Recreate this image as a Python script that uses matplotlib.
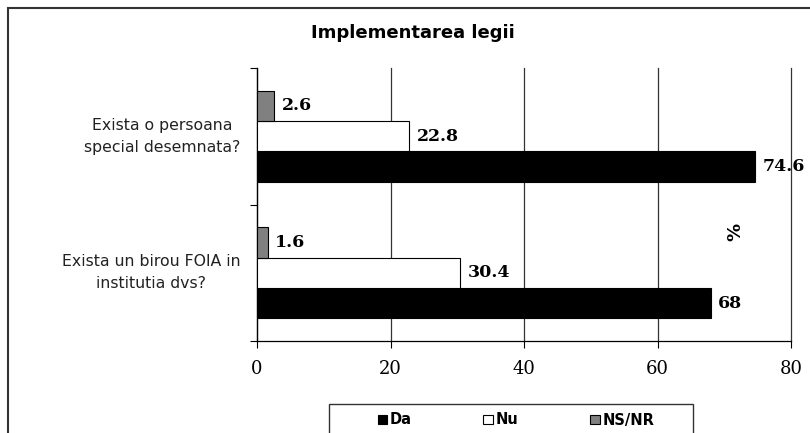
import matplotlib
matplotlib.use("Agg")
import matplotlib.pyplot as plt
from matplotlib.patches import Rectangle
import numpy as np

# data
questions = ["Exista o persoana\nspecial desemnata?",
             "Exista un birou FOIA in\ninstitutia dvs?"]
series_names = ["Da", "Nu", "NS/NR"]
da_vals = [74.6, 68]
nu_vals = [22.8, 30.4]
nsnr_vals = [2.6, 1.6]
x_ticks = [0, 20, 40, 60, 80]

colors = ["#000000", "#ffffff", "#808080"]

W, H = 810, 433
fig = plt.figure(figsize=(W / 100, H / 100), dpi=100)
ax = fig.add_axes([257 / W, 1 - 341 / H, (791 - 257) / W, (341 - 68) / H])

# first question on top
ypos = np.array([1, 0])
h = 1 / 4.5
offsets = [-h, 0, h]

bars = []
for vals, off, col, name in zip([da_vals, nu_vals, nsnr_vals], offsets, colors, series_names):
    b = ax.barh(ypos + off, vals, height=h, color=col, edgecolor="black",
                linewidth=0.8, label=name, zorder=3)
    bars.append(b)
    for y, v in zip(ypos + off, vals):
        ax.text(v + 1.1, y, f"{v:g}", va="center", ha="left",
                fontfamily="DejaVu Serif", fontweight="heavy", fontsize=12.5, zorder=4)

ax.set_xlim(0, 80)
ax.set_ylim(-0.5, 1.5)
ax.set_xticks(x_ticks)
ax.set_xticklabels([str(t) for t in x_ticks], fontfamily="DejaVu Serif", fontsize=13)
ax.tick_params(axis="x", direction="out", length=5, width=0.8, pad=9)

ax.set_yticks([-0.5, 0.5, 1.5])
ax.set_yticklabels([])
ax.set_yticks(ypos, minor=True)
ax.set_yticklabels(questions, minor=True, fontsize=11.3, multialignment="center",
                   color="#222222", linespacing=1.6, va="center")
ax.tick_params(axis="y", which="major", direction="out", length=5, width=0.8)
ax.tick_params(axis="y", which="minor", length=0, pad=12)

ax.xaxis.grid(True, color="#333333", linewidth=0.9, zorder=0)
for gl in ax.get_xgridlines():
    gl.set_clip_on(False)
ax.set_axisbelow(True)
for s in ["top", "right"]:
    ax.spines[s].set_visible(False)
for s in ["left", "bottom"]:
    ax.spines[s].set_color("black")
    ax.spines[s].set_linewidth(0.9)

fig.text(413 / W, 1 - 33 / H, "Implementarea legii", ha="center", va="center",
         fontsize=13, fontweight="bold")
fig.text(735 / W, 1 - 232 / H, "%", ha="center", va="center", rotation=90,
         fontsize=13, fontweight="bold")

# legend (box runs past the bottom edge like in the source)
fig.legend(handles=bars, labels=series_names, loc="center", ncol=3,
           bbox_to_anchor=(516 / W, 1 - 420 / H), frameon=False,
           prop={"weight": "bold", "size": 10.5}, handlelength=0.65,
           handleheight=0.65, handletextpad=0.2, columnspacing=4.9)
fig.patches.append(Rectangle((329 / W, -0.1), (693 - 329) / W, (1 - 404 / H) + 0.1,
                             transform=fig.transFigure, fill=False,
                             edgecolor="#333333", linewidth=1))

# outer chart border, open on the right and bottom
fig.patches.append(Rectangle((8 / W, -0.1), 1.0, (1 - 7.5 / H) + 0.1,
                             transform=fig.transFigure, fill=False,
                             edgecolor="#333333", linewidth=1.5))

fig.savefig("out.png", dpi=100)
